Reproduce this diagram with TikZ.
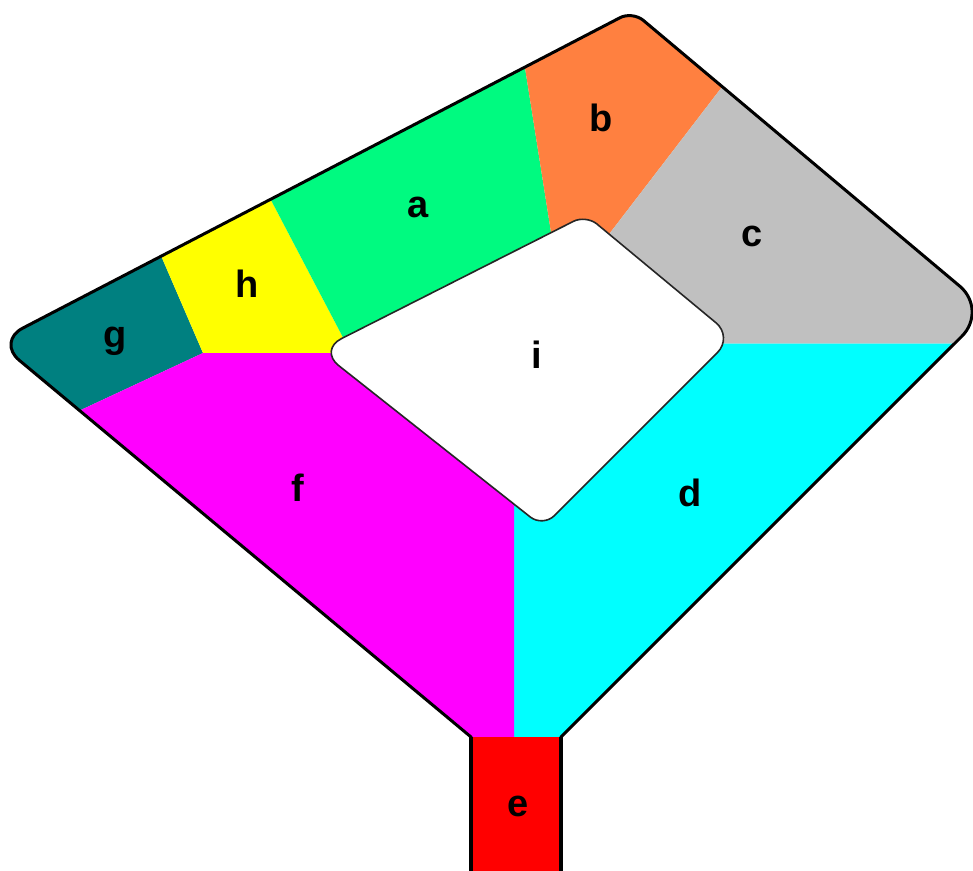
\documentclass[tikz,border=0pt]{standalone}
\usepackage{fontspec}
\setmainfont{Liberation Sans}
\usetikzlibrary{positioning}

\definecolor{zoneA}{RGB}{0,250,128}
\definecolor{zoneB}{RGB}{255,128,64}
\definecolor{zoneC}{RGB}{192,192,192}
\definecolor{zoneD}{RGB}{0,255,255}
\definecolor{zoneE}{RGB}{255,0,0}
\definecolor{zoneF}{RGB}{255,0,255}
\definecolor{zoneG}{RGB}{0,128,128}
\definecolor{zoneH}{RGB}{255,255,0}

\begin{document}
\begin{tikzpicture}[
    x=1pt, y=-1pt,
    zone/.style={draw=none},
    rim/.style={draw=black, line width=3pt, line join=round},
    holeline/.style={draw=black!85, line width=1.6pt, fill=white},
    tag/.style={font=\fontsize{38}{42}\selectfont\bfseries, inner sep=0pt}
]

\useasboundingbox[fill=white] (0,0) rectangle (973,870);

% ============= COLOURED ZONES =============
\begin{scope}
\clip (471,872) -- (471,737) -- (19.2,360.2) .. controls (6.9,350.0) and (8.5,335.6) .. (22.6,328.2)
    -- (620.0,17.7) .. controls (626.8,14.1) and (637.2,15.3) .. (643.1,20.2)
    -- (959.8,286.2) .. controls (975.3,299.3) and (976.3,321.8) .. (961.9,336.2)
    -- (561,737) -- (561,872) -- cycle;

\fill[zone, zoneG] (-20,200) -- (137,200) -- (203,353) -- (-20,457) -- cycle;
\fill[zone, zoneH] (137,200) -- (250,160) -- (348,347) -- (348,353) -- (203,353) -- cycle;
\fill[zone, zoneA] (250,160) -- (519,30) -- (553,245) -- (348,347) -- cycle;
\fill[zone, zoneB] (519,30) -- (632,-20) -- (758,40) -- (600,246) -- (553,245) -- cycle;
\fill[zone, zoneC] (758,40) -- (1000,300) -- (1000,343.5) -- (700,343.5) -- (600,246) -- cycle;
\fill[zone, zoneD] (700,343.5) -- (1000,343.5) -- (1000,740) -- (514,740) -- (514,495) -- cycle;
\fill[zone, zoneF] (-20,457) -- (203,353) -- (348,353) -- (514,495) -- (514,740) -- (-20,740) -- cycle;
\fill[zone, zoneE] (471,737) rectangle (561,880);
\end{scope}

% ============= INNER HOLE =============
\path[holeline] (341.3,338.7) -- (573.5,221.3) .. controls (580.4,217.8) and (590.9,219.0) .. (596.8,223.9)
    -- (716.1,322.9) .. controls (725.4,330.7) and (726.0,344.0) .. (717.4,352.6)
    -- (554.3,515.7) .. controls (548.1,521.9) and (537.3,522.5) .. (530.4,517.1)
    -- (338.6,365.5) .. controls (327.8,357.0) and (329.0,344.9) .. (341.3,338.7) -- cycle;

% ============= OUTLINE =============
\draw[rim] (471,872) -- (471,737) -- (19.2,360.2) .. controls (6.9,350.0) and (8.5,335.6) .. (22.6,328.2)
    -- (620.0,17.7) .. controls (626.8,14.1) and (637.2,15.3) .. (643.1,20.2)
    -- (959.8,286.2) .. controls (975.3,299.3) and (976.3,321.8) .. (961.9,336.2)
    -- (561,737) -- (561,872);
\draw[black, line width=4.5pt] (471,872) -- (471,737);
\draw[black, line width=4.5pt] (561,872) -- (561,737);

% Zone labels
\node[tag] (la) at (418,207) {a};
\node[tag] (lb) at (601,118) {b};
\node[tag] (lc) at (752,236) {c};
\node[tag] (ld) at (690,493) {d};
\node[tag] (le) at (518,806) {e};
\node[tag] (lf) at (298,488) {f};
\node[tag] (lg) at (115,341) {g};
\node[tag] (lh) at (247,284) {h};
\node[tag] (li) at (537,355) {i};

\end{tikzpicture}
\end{document}
